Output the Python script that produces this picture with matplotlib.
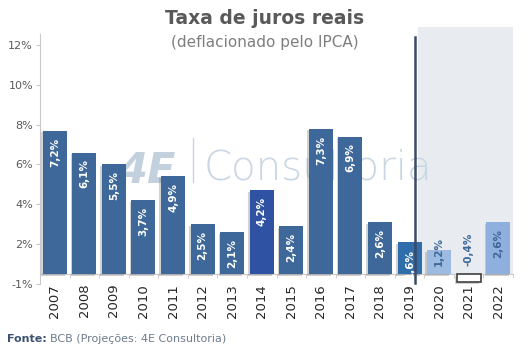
import matplotlib.pyplot as plt
import matplotlib.patheffects as pe
from matplotlib.patches import Rectangle

# dados: juros reais anuais (%), 2020-2022 são projeções
anos = ['2007', '2008', '2009', '2010', '2011', '2012', '2013', '2014',
        '2015', '2016', '2017', '2018', '2019', '2020', '2021', '2022']
juros = [7.2, 6.1, 5.5, 3.7, 4.9, 2.5, 2.1, 4.2, 2.4, 7.3, 6.9, 2.6, 1.6, 1.2, -0.4, 2.6]
projecao = [False] * 13 + [True] * 3

# eixo y: marcas deslocadas de meio ponto, rótulos arredondados como no Excel
y_marcas = [-0.5, 1.5, 3.5, 5.5, 7.5, 9.5, 11.5]
y_rotulos = ['-1%', '2%', '4%', '6%', '8%', '10%', '12%']

cores = ['#3D6899'] * 16
cores[7] = '#2F52A2'
cores[12] = '#2F6EAB'
cores[13] = '#9DBBE0'
cores[14] = '#FFFFFF'
cores[15] = '#8FAFDE'

plt.rcParams['font.family'] = ['DejaVu Sans']

fig = plt.figure(figsize=(5.29, 3.48), dpi=100)
ax = fig.add_axes([40 / 529, 64 / 348, 473 / 529, 250 / 348])
ax.set_xlim(-0.5, 15.5)
ax.set_ylim(-0.5, 12.05)

# área sombreada das projeções
ax.add_patch(Rectangle((12.28, 0), 15.5 - 12.28, 12.4, facecolor='#E8ECF1',
                       edgecolor='none', zorder=0.5, clip_on=False))

# marca d'água
marca = '#C9D6E3'
ax.text(2.15, 4.55, '4E', fontsize=30, fontweight='bold', fontstyle='italic',
        color='#C3D0DE', zorder=1, ha='left', va='baseline')
ax.plot([4.68, 4.68], [4.6, 6.85], color=marca, lw=1, zorder=1)
ax.text(5.05, 4.75, 'Consultoria', fontsize=29, fontweight='light',
        color=marca, zorder=1, ha='left', va='baseline')

x = list(range(len(anos)))
barras = ax.bar(x, juros, width=0.81, color=cores, zorder=2,
                edgecolor=['none'] * 14 + ['#404040', 'none'],
                linewidth=[0] * 14 + [1.2, 0])
for b in barras:
    b.set_path_effects([pe.SimplePatchShadow(offset=(-1.2, -1.2), shadow_rgbFace='#808080', alpha=0.35),
                        pe.Normal()])

# rótulos de valor
for i, v in enumerate(juros):
    texto = f'{v:.1f}'.replace('.', ',') + '%'
    cor = '#3D6899' if projecao[i] else 'white'
    if projecao[i] and v < 2:
        ax.annotate(texto, xy=(i, 0), xytext=(0, 5.5), textcoords='offset points',
                    rotation=90, ha='center', va='bottom', fontsize=7.5,
                    fontweight='bold', color=cor, zorder=3)
    else:
        ax.annotate(texto, xy=(i, v), xytext=(0, -5), textcoords='offset points',
                    rotation=90, ha='center', va='top', fontsize=7.5,
                    fontweight='bold', color=cor, zorder=3)

# linha que separa realizado de projeção
ax.plot([12.2, 12.2], [-0.45, 11.9], color='#3B4A66', lw=1.8, zorder=4, clip_on=False)

ax.spines[['top', 'right']].set_visible(False)
ax.spines['left'].set_color('#C8C8C8')
ax.spines['bottom'].set_color('#C8C8C8')
ax.spines['bottom'].set_position(('data', 0))
ax.spines['bottom'].set_zorder(1.5)

ax.set_yticks(y_marcas)
ax.set_yticklabels(y_rotulos)
ax.tick_params(axis='y', length=3, color='#C8C8C8', labelsize=8, labelcolor='#595959', pad=2)

ax.set_xticks(x)
ax.set_xticklabels(anos, rotation=90)
ax.set_xticks([i + 0.5 for i in range(-1, 16)], minor=True)
ax.tick_params(axis='x', which='major', length=0, pad=7, labelsize=9.5, labelcolor='#262626')
ax.tick_params(axis='x', which='minor', length=3, color='#C8C8C8')

fig.text(265 / 529, 1 - 18 / 348, 'Taxa de juros reais', ha='center', va='center',
         fontsize=13.5, fontweight='bold', color='#595959')
fig.text(265 / 529, 1 - 43 / 348, '(deflacionado pelo IPCA)', ha='center', va='center',
         fontsize=11, color='#7F7F7F')

fonte = fig.text(7 / 529, 1 - 339 / 348, 'Fonte:', ha='left', va='center',
                 fontsize=8, fontweight='bold', color='#3E5372')
fig.canvas.draw()
larg = fonte.get_window_extent().width
fig.text((7 + larg + 3) / 529, 1 - 339 / 348, 'BCB (Projeções: 4E Consultoria)',
         ha='left', va='center', fontsize=8, color='#6E7C8C')

fig.savefig('out.png', dpi=100)
